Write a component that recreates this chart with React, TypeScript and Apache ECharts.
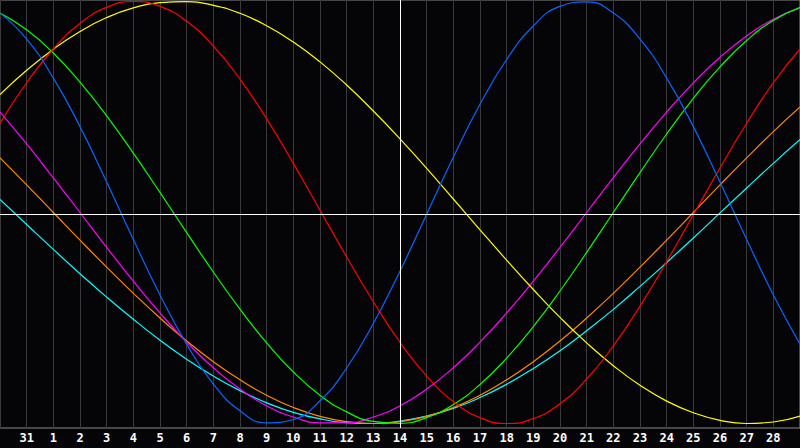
import React, { useEffect, useRef } from "react";
import * as echarts from "echarts";

// x index 0..30 ; index 0 = day 30 of previous month
const dayLabels = ["30", "31", "1", "2", "3", "4", "5", "6", "7", "8", "9", "10", "11", "12", "13", "14", "15", "16", "17", "18", "19", "20", "21", "22", "23", "24", "25", "26", "27", "28", "29"];

const physical = [0.945, 0.822, 0.637, 0.407, 0.144, -0.128, -0.391, -0.624, -0.813, -0.940, -0.997, -0.981, -0.892, -0.737, -0.526, -0.278, -0.008, 0.262, 0.513, 0.725, 0.884, 0.977, 0.998, 0.945, 0.822, 0.637, 0.407, 0.144, -0.128, -0.391, -0.624];
const emotional = [0.423, 0.615, 0.775, 0.896, 0.972, 1.0, 0.977, 0.906, 0.789, 0.632, 0.444, 0.233, 0.011, -0.211, -0.423, -0.615, -0.775, -0.896, -0.972, -1.0, -0.977, -0.906, -0.789, -0.632, -0.444, -0.233, -0.011, 0.211, 0.423, 0.615, 0.775];
const intellectual = [0.945, 0.866, 0.756, 0.618, 0.458, 0.281, 0.095, -0.095, -0.282, -0.458, -0.618, -0.756, -0.866, -0.945, -0.990, -0.999, -0.972, -0.910, -0.815, -0.690, -0.541, -0.372, -0.189, 0.0, 0.189, 0.372, 0.541, 0.690, 0.815, 0.910, 0.972];
const aesthetic = [0.559, 0.674, 0.774, 0.858, 0.924, 0.970, 0.995, 0.999, 0.982, 0.944, 0.885, 0.808, 0.714, 0.604, 0.481, 0.349, 0.209, 0.064, -0.082, -0.226, -0.365, -0.497, -0.618, -0.726, -0.819, -0.894, -0.949, -0.985, -1.0, -0.993, -0.965];
const intuitive = [0.476, 0.325, 0.164, 0.0, -0.165, -0.325, -0.476, -0.614, -0.736, -0.837, -0.916, -0.969, -0.997, -0.997, -0.969, -0.916, -0.837, -0.736, -0.614, -0.476, -0.325, -0.165, 0.0, 0.165, 0.325, 0.476, 0.614, 0.736, 0.837, 0.916, 0.969];
const awareness = [0.259, 0.131, 0.0, -0.131, -0.259, -0.383, -0.5, -0.609, -0.707, -0.793, -0.866, -0.924, -0.966, -0.991, -1.0, -0.991, -0.966, -0.924, -0.866, -0.793, -0.707, -0.609, -0.5, -0.383, -0.259, -0.131, 0.0, 0.131, 0.259, 0.383, 0.5];
const spiritual = [0.062, -0.057, -0.175, -0.290, -0.401, -0.506, -0.605, -0.695, -0.775, -0.844, -0.902, -0.947, -0.978, -0.996, -1.0, -0.989, -0.965, -0.928, -0.877, -0.814, -0.739, -0.655, -0.560, -0.459, -0.350, -0.237, -0.121, -0.002, 0.116, 0.233, 0.346];

const seriesList = [
  { name: "Spiritual", data: spiritual, color: "#00ffff" },
  { name: "Awareness", data: awareness, color: "#ff8800" },
  { name: "Intuitive", data: intuitive, color: "#ff00ff" },
  { name: "Aesthetic", data: aesthetic, color: "#ffff00" },
  { name: "Intellectual", data: intellectual, color: "#00ff00" },
  { name: "Emotional", data: emotional, color: "#ff0000" },
  { name: "Physical", data: physical, color: "#0a66ff" },
];

const todayIndex = 15;

export default function App() {
  const ref = useRef<HTMLDivElement>(null);
  useEffect(() => {
    document.body.style.margin = "0";
    document.body.style.background = "#050508";
    const chart = echarts.init(ref.current!, null, { renderer: "svg" });
    const series: any[] = seriesList.map((s) => ({
      name: s.name,
      type: "line",
      smooth: true,
      symbol: "none",
      data: s.data.map((v, i) => [i, v]),
      lineStyle: { color: s.color, width: 1.2 },
      itemStyle: { color: s.color },
      silent: true,
    }));
    series.push({
      type: "line",
      data: [],
      symbol: "none",
      silent: true,
      markLine: {
        symbol: "none",
        silent: true,
        label: { show: false },
        lineStyle: { color: "#ffffff", width: 1, type: "solid" },
        data: [{ xAxis: todayIndex }, { yAxis: -0.007 }],
      },
      z: 1,
    });
    chart.setOption({
      animation: false,
      backgroundColor: "#050508",
      grid: {
        left: 0,
        right: 0,
        top: 0,
        bottom: 20,
        show: true,
        borderColor: "#8a8a8a",
        borderWidth: 1,
        backgroundColor: "#050508",
      },
      xAxis: {
        type: "value",
        min: 0,
        max: 30,
        interval: 1,
        axisLine: { show: false },
        axisTick: { show: false },
        splitLine: { show: true, lineStyle: { color: "#3a3a3a", width: 1 } },
        axisLabel: {
          show: true,
          color: "#ffffff",
          fontFamily: "DejaVu Sans Mono",
          fontWeight: "bold",
          fontSize: 12,
          margin: 4,
          showMinLabel: false,
          showMaxLabel: false,
          formatter: (v: number) => dayLabels[Math.round(v)] ?? "",
        },
      },
      yAxis: {
        type: "value",
        min: -1.0213,
        max: 1.0071,
        axisLine: { show: false },
        axisTick: { show: false },
        axisLabel: { show: false },
        splitLine: { show: false },
      },
      series,
    });
    return () => chart.dispose();
  }, []);
  return <div ref={ref} style={{ width: 800, height: 448, background: "#050508" }} />;
}
